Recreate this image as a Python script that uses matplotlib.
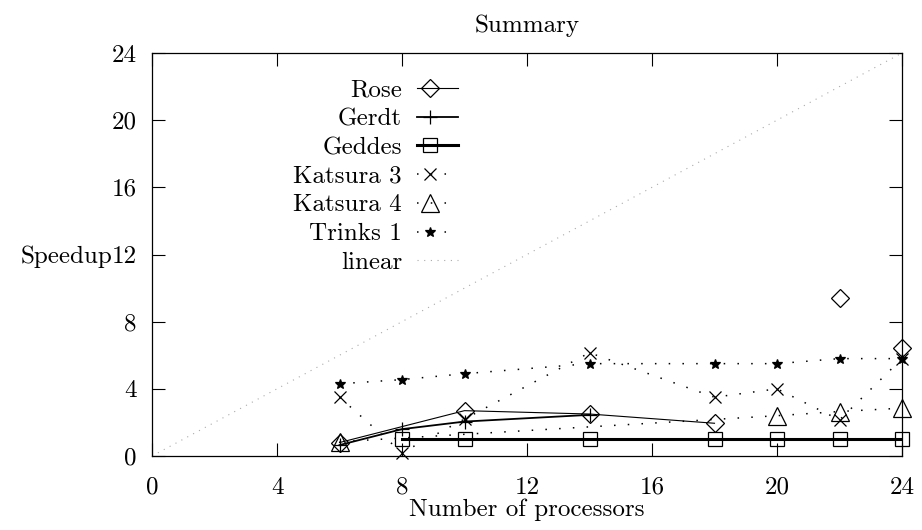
import numpy as np
import matplotlib
matplotlib.use('Agg')
import matplotlib.pyplot as plt

plt.rcParams['font.family'] = ['cmr10', 'DejaVu Serif']
plt.rcParams['mathtext.fontset'] = 'cm'
plt.rcParams['axes.unicode_minus'] = False
plt.rcParams['font.size'] = 18

# data
rose_x = [6, 10, 14, 18, 22, 24]
rose_y = [0.8, 2.7, 2.5, 1.95, 9.4, 6.45]
rose_joined = 4          # only the first points carry the line

gerdt_x = [6, 8, 10, 14]
gerdt_y = [0.65, 1.6, 2.05, 2.45]

geddes_x = [8, 10, 14, 18, 20, 22, 24]
geddes_y = [1.0, 1.0, 1.0, 1.0, 1.0, 1.0, 1.0]

kat3_x = [6, 8, 10, 14, 18, 20, 22, 24]
kat3_y = [3.5, 0.2, 2.2, 6.15, 3.5, 4.0, 2.15, 5.8]

kat4_x = [6, 20, 22, 24]
kat4_y = [0.85, 2.4, 2.65, 2.85]

trinks_x = [6, 8, 10, 14, 18, 20, 22, 24]
trinks_y = [4.3, 4.55, 4.9, 5.5, 5.5, 5.5, 5.8, 5.8]

linear_x = [0, 24]
linear_y = [0, 24]

ticks = [0, 4, 8, 12, 16, 20, 24]

DOTS = (0, (1, 8))
LIN_DOTS = (0, (1, 5))

def main():
    fig = plt.figure(figsize=(9.22, 5.30), dpi=100)
    ax = fig.add_axes([152/922, 1-456/530, 750/922, 403/530])

    series = [
        ('Rose', rose_x[:rose_joined], rose_y[:rose_joined], 'D', 9.0, '-', 0.8),
        ('Gerdt', gerdt_x, gerdt_y, '+', 10.0, '-', 1.3),
        ('Geddes', geddes_x, geddes_y, 's', 10.0, '-', 2.2),
        ('Katsura 3', kat3_x, kat3_y, 'x', 9.0, DOTS, 1.1),
        ('Katsura 4', kat4_x, kat4_y, '^', 13.0, DOTS, 1.1),
        ('Trinks 1', trinks_x, trinks_y, '*', 7.5, DOTS, 1.1),
    ]

    # linear reference
    ax.plot(linear_x, linear_y, color='#aaaaaa', lw=0.8, ls=LIN_DOTS, zorder=1)

    for name, x, y, m, ms, ls, lw in series:
        ax.plot(x, y, ls=ls, lw=lw, color='black', zorder=2)
        mfc = 'black' if m == '*' else 'none'
        ax.plot(x, y, ls='none', marker=m, ms=ms, mfc=mfc, mec='black', mew=0.9,
                zorder=3, clip_on=False)
    # Rose points that are not joined
    ax.plot(rose_x[rose_joined:], rose_y[rose_joined:], ls='none', marker='D', ms=9.0,
            mfc='none', mec='black', mew=0.9, zorder=3, clip_on=False)

    # hand-made key, gnuplot style
    ky0 = 0.913
    kdy = 0.0712
    for i, (name, x, y, m, ms, ls, lw) in enumerate(series):
        yy = ky0 - i*kdy
        ax.text(0.3333, yy, name, transform=ax.transAxes, ha='right', va='center_baseline')
        ax.plot([0.3533, 0.408], [yy, yy], transform=ax.transAxes, ls=ls, lw=lw, color='black',
                clip_on=False)
        mfc = 'black' if m == '*' else 'none'
        ax.plot([0.3707], [yy], transform=ax.transAxes, marker=m, ms=ms, mfc=mfc, mec='black',
                mew=0.9, clip_on=False)
    yy = ky0 - 6*kdy
    ax.text(0.3333, yy, 'linear', transform=ax.transAxes, ha='right', va='center_baseline')
    ax.plot([0.3533, 0.408], [yy, yy], transform=ax.transAxes, ls=LIN_DOTS, lw=0.8,
            color='#aaaaaa', clip_on=False)

    ax.set_xlim(0, 24)
    ax.set_ylim(0, 24)
    ax.set_xticks(ticks)
    ax.set_yticks(ticks)
    ax.tick_params(direction='in', length=9.5, width=0.8, top=True, right=True,
                   labelsize=18)
    ax.tick_params(axis='x', pad=15)
    ax.tick_params(axis='y', pad=11)
    for s in ax.spines.values():
        s.set_linewidth(0.9)

    ax.set_title('Summary', fontsize=18, pad=15)
    ax.set_xlabel('Number of processors', fontsize=18, labelpad=0)
    ax.set_ylabel('Speedup', fontsize=18, rotation=0, ha='right', va='center_baseline')
    ax.yaxis.set_label_coords(-0.0533, 0.5)

    fig.savefig('out.png', dpi=100)

if __name__ == "__main__":
    main()
